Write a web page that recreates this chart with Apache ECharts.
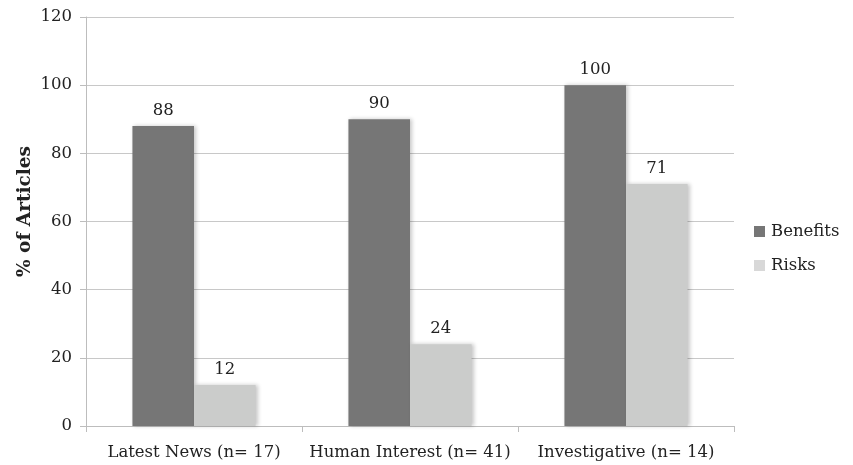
<!DOCTYPE html>
<html>
<head>
<meta charset="utf-8">
<script src="https://cdn.jsdelivr.net/npm/echarts@6/dist/echarts.min.js"></script>
<style>
  html, body { margin: 0; padding: 0; background: #ffffff; }
  #chart { width: 853px; height: 465px; }
</style>
</head>
<body>
<div id="chart"></div>
<script>
// Article categories and the share of articles mentioning each theme
const categories = ['Latest News (n= 17)', 'Human Interest (n= 41)', 'Investigative (n= 14)'];
const benefits = [88, 90, 100];
const risks = [12, 24, 71];
const yTicks = { min: 0, max: 120, interval: 20 };

const FONT = 'DejaVu Serif';
const TEXT = '#222222';

const chart = echarts.init(document.getElementById('chart'), null, { renderer: 'canvas' });

const labelStyle = {
  show: true,
  position: 'top',
  distance: 7,
  fontFamily: FONT,
  fontSize: 16.5,
  color: TEXT
};

chart.setOption({
  animation: false,
  backgroundColor: '#ffffff',
  grid: { left: 86, right: 119, top: 17, bottom: 39, containLabel: false },
  legend: {
    orient: 'vertical',
    left: 754,
    top: 223,
    padding: 0,
    itemWidth: 11,
    itemHeight: 11,
    itemGap: 17,
    icon: 'rect',
    textStyle: { fontFamily: FONT, fontSize: 16.5, color: TEXT, padding: [0, 0, 0, 1] },
    data: [
      { name: 'Benefits', itemStyle: { color: '#767676' } },
      { name: 'Risks', itemStyle: { color: '#d8d8d8' } }
    ]
  },
  xAxis: {
    type: 'category',
    data: categories,
    axisLine: { lineStyle: { color: '#bdbdbd', width: 1 } },
    axisTick: { show: true, length: 6, lineStyle: { color: '#bdbdbd' } },
    axisLabel: { interval: 0, fontFamily: FONT, fontSize: 16.5, color: TEXT, margin: 18 }
  },
  yAxis: {
    type: 'value',
    min: yTicks.min,
    max: yTicks.max,
    interval: yTicks.interval,
    name: '% of Articles',
    nameLocation: 'middle',
    nameGap: 51,
    nameMoveOverlap: false,
    nameTextStyle: { fontFamily: FONT, fontSize: 18.5, fontWeight: 'bold', color: TEXT, padding: [0, 0, 0, 20] },
    axisLine: { show: true, lineStyle: { color: '#bdbdbd', width: 1 } },
    axisTick: { show: true, length: 6, lineStyle: { color: '#bdbdbd' } },
    axisLabel: { fontFamily: FONT, fontSize: 16.5, color: TEXT, margin: 14 },
    splitLine: { lineStyle: { color: '#c8c8c8', width: 1 } }
  },
  series: [
    {
      name: 'Benefits',
      type: 'bar',
      data: benefits,
      barGap: '0%',
      barCategoryGap: '43%',
      itemStyle: {
        color: '#767676',
        shadowColor: 'rgba(0,0,0,0.22)',
        shadowBlur: 4,
        shadowOffsetX: 2
      },
      label: labelStyle
    },
    {
      name: 'Risks',
      type: 'bar',
      data: risks,
      barGap: '0%',
      barCategoryGap: '43%',
      itemStyle: {
        color: '#cbcccb',
        shadowColor: 'rgba(0,0,0,0.22)',
        shadowBlur: 4,
        shadowOffsetX: 2
      },
      label: labelStyle
    }
  ]
});
</script>
</body>
</html>
